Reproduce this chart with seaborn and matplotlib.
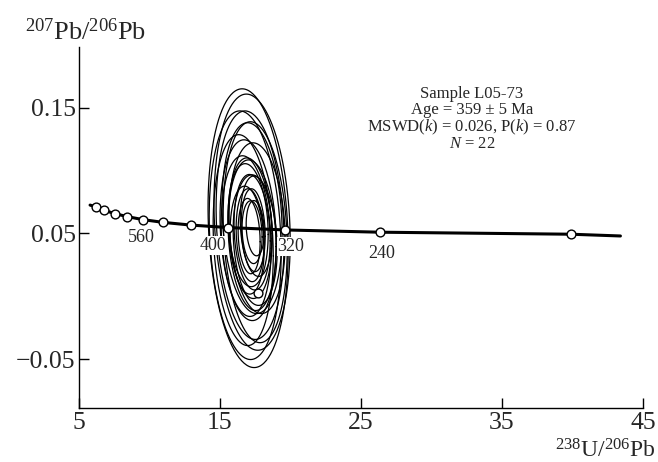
import numpy as np
import pandas as pd
import matplotlib
matplotlib.use("Agg")
import matplotlib.pyplot as plt
import seaborn as sns

# ---- data ----
# concordia curve (line) and age markers
curve_x = [5.82, 6.228, 6.837, 7.568, 8.462, 9.580, 11.02, 12.94, 15.62, 19.65, 26.36, 39.90, 43.4]
curve_y = [0.0726, 0.0711, 0.0684, 0.0658, 0.0634, 0.0610, 0.0588, 0.0567, 0.0547, 0.0528, 0.0510, 0.0494, 0.0480]
marker_age = [960, 880, 800, 720, 640, 560, 480, 400, 320, 240, 160]
marker_x = [6.228, 6.837, 7.568, 8.462, 9.580, 11.02, 12.94, 15.62, 19.65, 26.36, 39.90]
marker_y = [0.0711, 0.0684, 0.0658, 0.0634, 0.0610, 0.0588, 0.0567, 0.0547, 0.0528, 0.0510, 0.0494]
labelled_ages = [560, 400, 320, 240]
extra_pt_x = [17.73]
extra_pt_y = [0.0025]

# error ellipses: centre, half-width, half-height
ell_cx = [17.02, 17.30, 16.81, 17.16, 17.52, 16.67, 17.30, 17.02, 17.66, 16.88, 17.30,
          17.16, 17.52, 17.02, 17.30, 16.95, 17.59, 17.16, 17.38, 17.09, 17.30, 17.52]
ell_cy = [0.0542, 0.0590, 0.0486, 0.0566, 0.0510, 0.0447, 0.0622, 0.0526, 0.0542, 0.0479, 0.0486,
          0.0542, 0.0447, 0.0566, 0.0510, 0.0447, 0.0558, 0.0486, 0.0526, 0.0479, 0.0510, 0.0542]
ell_sx = [2.84, 2.70, 2.55, 2.41, 2.27, 2.13, 2.13, 1.99, 1.99, 1.77, 1.70,
          1.56, 1.56, 1.42, 1.28, 1.21, 1.13, 0.99, 0.85, 0.78, 0.71, 0.64]
ell_sy = [0.111, 0.102, 0.099, 0.091, 0.088, 0.084, 0.076, 0.072, 0.068, 0.064, 0.060,
          0.056, 0.052, 0.049, 0.046, 0.043, 0.040, 0.037, 0.033, 0.030, 0.025, 0.022]
ell_rho = -0.15

x_ticks = [5, 15, 25, 35, 45]
y_ticks = [-0.05, 0.05, 0.15]
y_ticklabels = ["\u22120.05", "0.05", "0.15"]

info_lines = ["Sample L05-73", "Age = 359 \u00b1 5 Ma",
              "MSWD($k$) = 0.026, P($k$) = 0.87", "$N$ = 22"]

# ---- style ----
sns.set_theme(style="ticks")
plt.rcParams["font.family"] = ["Liberation Serif", "DejaVu Serif"]
plt.rcParams["mathtext.fontset"] = "custom"
plt.rcParams["mathtext.rm"] = "Liberation Serif"
plt.rcParams["mathtext.it"] = "Liberation Serif:italic"
plt.rcParams["mathtext.bf"] = "Liberation Serif:bold"

fig = plt.figure(figsize=(6.58, 4.62), dpi=100)
ax = fig.add_axes([78.5 / 658, 54 / 462, (643 - 78.5) / 658, (408 - 47) / 462])

# ellipses
t = np.linspace(0, 2 * np.pi, 200)
for cx, cy, sx, sy in zip(ell_cx, ell_cy, ell_sx, ell_sy):
    ex = cx + sx * np.cos(t)
    ey = cy + sy * (ell_rho * np.cos(t) + np.sqrt(1 - ell_rho ** 2) * np.sin(t))
    ax.plot(ex, ey, color="black", lw=0.9, zorder=2)

curve = pd.DataFrame({"x": curve_x, "y": curve_y})
sns.lineplot(data=curve, x="x", y="y", sort=False, color="black", lw=2.2, ax=ax, zorder=3)

pts = pd.DataFrame({"x": marker_x + extra_pt_x, "y": marker_y + extra_pt_y})
sns.scatterplot(data=pts, x="x", y="y", s=40, color="white", edgecolor="black",
                linewidth=1.0, ax=ax, zorder=4)

label_offsets = {560: (-16, -11), 400: (-11, -13), 320: (4, -12), 240: (1, -15)}
for age in labelled_ages:
    i = marker_age.index(age)
    dx, dy = label_offsets[age]
    ax.annotate(str(age), (marker_x[i], marker_y[i]), xytext=(dx, dy),
                textcoords="offset points", ha="center", va="center", fontsize=13,
                bbox=dict(facecolor="white", edgecolor="none", pad=0.5), zorder=5)

ax.set_xlim(5, 45)
ax.set_ylim(-0.089, 0.1985)
ax.set_xticks(x_ticks)
ax.set_xticklabels([str(v) for v in x_ticks])
ax.set_yticks(y_ticks)
ax.set_yticklabels(y_ticklabels)
ax.tick_params(direction="in", length=7, width=1.0, labelsize=18.5, color="black")
ax.tick_params(axis="x", pad=3)
ax.tick_params(axis="y", pad=2)
ax.set_xlabel("")
ax.set_ylabel("")
for s in ["top", "right"]:
    ax.spines[s].set_visible(False)
for s in ["left", "bottom"]:
    ax.spines[s].set_linewidth(1.0)
    ax.spines[s].set_color("black")

fig.text(25 / 658, 1 - 40 / 462, r"$^{207}$Pb/$^{206}$Pb", fontsize=19, ha="left", va="baseline")
fig.text(656 / 658, 1 - 458 / 462, r"$^{238}$U/$^{206}$Pb", fontsize=17, ha="right", va="baseline")

for k, line in enumerate(info_lines):
    fig.text(472 / 658, 1 - (98 + 16.5 * k) / 462, line, fontsize=12, ha="center", va="baseline")

fig.savefig("out.png", dpi=100, facecolor="white")
